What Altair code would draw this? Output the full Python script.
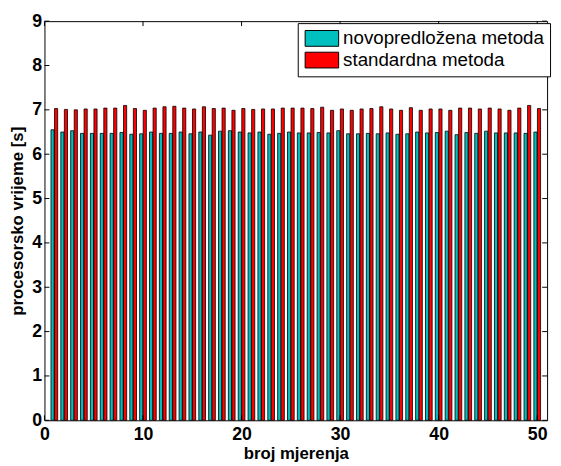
import altair as alt
import pandas as pd

# ---- data ----
measurements = list(range(1, 51))
novopredlozena = [6.55, 6.50, 6.53, 6.47, 6.47, 6.47, 6.47, 6.49, 6.45, 6.46, 6.50, 6.47,
                  6.47, 6.50, 6.46, 6.50, 6.43, 6.52, 6.53, 6.50, 6.48, 6.50, 6.45, 6.47,
                  6.50, 6.48, 6.48, 6.49, 6.48, 6.53, 6.46, 6.46, 6.47, 6.46, 6.48, 6.45,
                  6.46, 6.50, 6.48, 6.49, 6.52, 6.44, 6.49, 6.47, 6.52, 6.48, 6.48, 6.48, 6.47, 6.50]
standardna = [7.03, 7.01, 7.00, 7.02, 7.02, 7.04, 7.04, 7.10, 7.03, 6.99, 7.04, 7.07,
              7.08, 7.04, 7.02, 7.07, 7.03, 7.04, 6.99, 7.03, 7.01, 7.02, 7.02, 7.04,
              7.04, 7.04, 7.03, 7.06, 6.99, 7.02, 6.99, 7.02, 7.03, 7.07, 7.02, 6.99,
              7.05, 6.99, 7.02, 7.02, 6.99, 7.04, 7.04, 7.02, 7.04, 7.02, 6.99, 7.04, 7.10, 7.03]
series_names = ["novopredložena metoda", "standardna metoda"]
series_colors = ["#00BFBF", "#FF0000"]
x_ticks = [0, 10, 20, 30, 40, 50]
y_ticks = [0, 1, 2, 3, 4, 5, 6, 7, 8, 9]

FONT = "Liberation Sans"
W, H = 510, 405

rows = []
for name, vals, off in [(series_names[0], novopredlozena, -0.34), (series_names[1], standardna, 0.02)]:
    for m, v in zip(measurements, vals):
        rows.append({"broj": m, "vrijeme": v, "metoda": name, "x0": m + off, "x1": m + off + 0.32})
df = pd.DataFrame(rows)

xscale = alt.Scale(domain=[0, 51], nice=False, zero=False, padding=0)
yscale = alt.Scale(domain=[0, 9], nice=False, padding=0)

bars = alt.Chart(df).mark_bar(stroke="black", strokeWidth=0.8, orient="vertical").encode(
    x=alt.X("x0:Q", scale=xscale,
            axis=alt.Axis(values=x_ticks, title="broj mjerenja", grid=False, ticks=False, domain=False,
                          labelFont=FONT, labelFontSize=18, labelFontWeight="bold", labelColor="black",
                          labelPadding=5, titleFont=FONT, titleFontSize=17, titleFontWeight="bold",
                          titleColor="black", titlePadding=3, format="d", labelFlush=False)),
    x2="x1:Q",
    y=alt.Y("vrijeme:Q", scale=yscale,
            axis=alt.Axis(values=y_ticks, title="procesorsko vrijeme [s]", grid=False, ticks=False,
                          domain=False, labelFont=FONT, labelFontSize=18, labelFontWeight="bold",
                          labelColor="black", labelPadding=3, titleFont=FONT, titleFontSize=17,
                          titleFontWeight="bold", titleColor="black", titlePadding=5, format="d",
                          labelFlush=False)),
    y2=alt.datum(0),
    color=alt.Color("metoda:N", scale=alt.Scale(domain=series_names, range=series_colors),
                    legend=alt.Legend(orient="none", legendX=257, legendY=2, title=None,
                                      symbolType="M-1,-1L3.25,-1L3.25,1L-1,1Z", symbolSize=256,
                                      symbolStrokeColor="black", symbolStrokeWidth=1,
                                      symbolOpacity=1, labelFont=FONT, labelFontSize=19,
                                      labelColor="black", labelOffset=21, labelLimit=400,
                                      rowPadding=1, padding=6, strokeColor="black",
                                      fillColor="white", cornerRadius=0)),
)

tick_df = pd.DataFrame({"v": y_ticks})
xtick_df = pd.DataFrame({"v": x_ticks})

left_ticks = alt.Chart(tick_df).mark_rule(color="black", strokeWidth=1).encode(
    y=alt.Y("v:Q", scale=yscale), x=alt.value(0), x2=alt.value(5))
right_ticks = alt.Chart(tick_df).mark_rule(color="black", strokeWidth=1).encode(
    y=alt.Y("v:Q", scale=yscale), x=alt.value(W - 5), x2=alt.value(W))
bottom_ticks = alt.Chart(xtick_df).mark_rule(color="black", strokeWidth=1).encode(
    x=alt.X("v:Q", scale=xscale), y=alt.value(H - 5), y2=alt.value(H))
top_ticks = alt.Chart(xtick_df).mark_rule(color="black", strokeWidth=1).encode(
    x=alt.X("v:Q", scale=xscale), y=alt.value(0), y2=alt.value(5))

chart = alt.layer(bars, left_ticks, right_ticks, bottom_ticks, top_ticks).properties(
    width=W, height=H,
    autosize=alt.AutoSizeParams(type="none"),
    padding={"left": 37, "top": 10, "right": 6, "bottom": 42},
    background="white",
).configure_view(stroke="black", strokeWidth=1)

chart.save("out.html", embed_options={"renderer": "svg", "actions": False})
